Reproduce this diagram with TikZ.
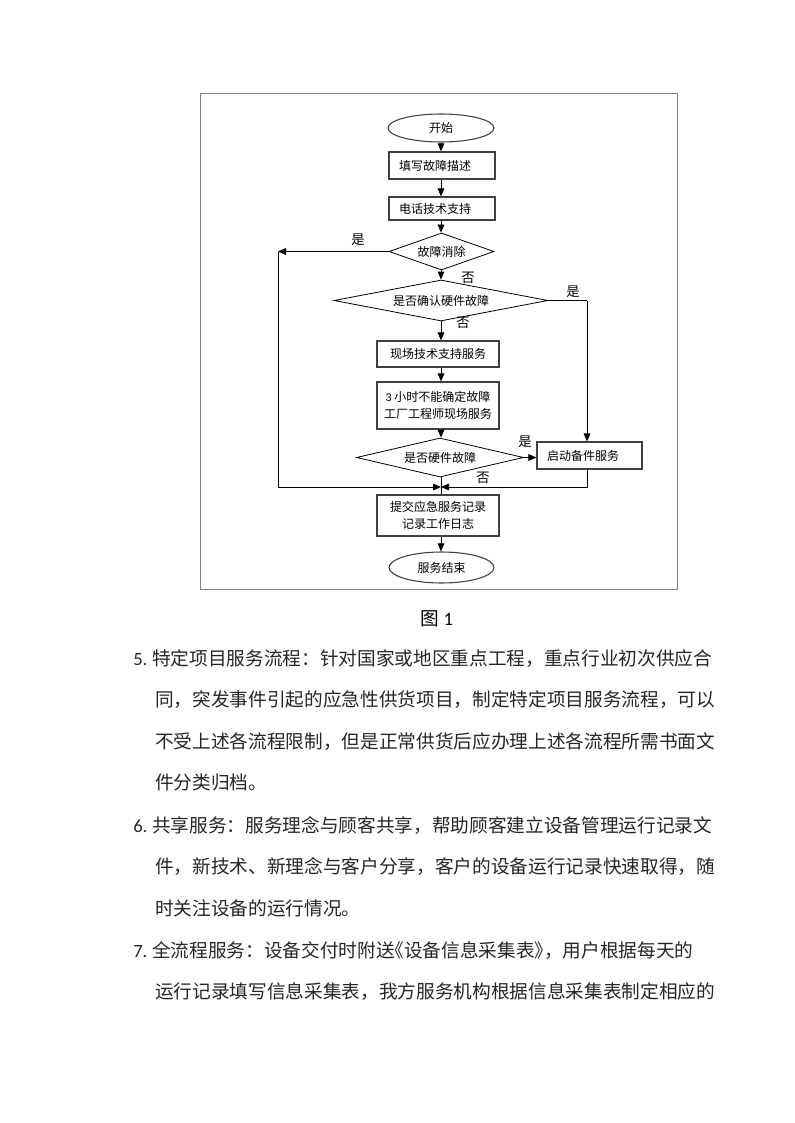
\documentclass[tikz,border=0pt]{standalone}
\usepackage{fontspec}
\setmainfont{Noto Sans CJK SC}
\newfontfamily\numfont{Carlito}
\usetikzlibrary{shapes.geometric,arrows.meta}
\newcommand\halfopen[1]{\makebox[0.5em][r]{#1}}
\newcommand\halfclose[1]{\makebox[0.5em][l]{#1}}
\tikzset{
  flow/.style={font=\fontsize{9pt}{13pt}\selectfont, inner sep=0pt},
  term/.style={flow, draw=black!75, line width=0.8pt, ellipse},
  box/.style={flow, draw=black!75, line width=0.9pt, rectangle, align=center},
  lbox/.style={box, align=left, inner xsep=7.5pt},
  test/.style={flow, draw=black, line width=0.6pt, diamond},
  answer/.style={font=\fontsize{10pt}{12pt}\selectfont, inner sep=0pt},
  para/.style={font=\fontsize{14pt}{16pt}\selectfont, text=black!85, inner sep=0pt, anchor=base west},
  link/.style={line width=0.6pt},
  >={Triangle[length=6pt,width=5pt]}
}
\begin{document}
\begin{tikzpicture}[x=0.75pt,y=-0.75pt]
      \useasboundingbox (0,0) rectangle (794,1123);
      \fill[white] (0,0) rectangle (794,1123);
      \draw[black!50, line width=1.1pt] (200.5,93.3) rectangle (677.7,589.7);
      \node[term, minimum width=79.5pt, minimum height=21pt] (start) at (441,128) {开始};
      \node[lbox, text width=64.5pt, minimum height=20.25pt] (fill) at (442,165.5) {填写故障描述};
      \node[lbox, text width=64.5pt, minimum height=17.25pt] (phone) at (442,208.5) {电话技术支持};
      \node[test, aspect=2.8, minimum width=78.75pt, minimum height=27.75pt] (clear) at (441.5,251.5) {故障消除};
      \node[test, aspect=5.2, minimum width=160.5pt, minimum height=30.75pt] (confirm) at (441,300.5) {是否确认硬件故障};
      \node[box, minimum width=91.5pt, minimum height=19.5pt] (site) at (438,354) {现场技术支持服务};
      \node[box, minimum width=91.5pt, minimum height=35.25pt] (factory) at (438,405.5) {{\numfont 3} 小时不能确定故障\\工厂工程师现场服务};
      \node[test, aspect=4.3, minimum width=125.25pt, minimum height=29.25pt] (hw) at (440,457.5) {是否硬件故障};
      \node[lbox, text width=63.75pt, minimum height=20.25pt] (spare) at (589.5,455.5) {启动备件服务};
      \node[box, minimum width=91.5pt, minimum height=30.75pt] (report) at (438,515.5) {提交应急服务记录\\记录工作日志};
      \node[term, minimum width=78.75pt, minimum height=23.25pt] (stop) at (441.5,567.5) {服务结束};
      \coordinate (yesL) at (278,251.5);
      \coordinate (yesLb) at (278,487);
      \coordinate (join) at (441,487);
      \coordinate (yesR) at (587,300.5);
      \coordinate (spareB) at (587,487);
      \begin{scope}[link]
        \draw[->] (start.south) -- (start.south |- fill.north);
        \draw[->] (start |- fill.south) -- (start |- phone.north);
        \draw[->] (start |- phone.south) -- (start |- clear.north);
        \draw[->] (start |- clear.south) -- (start |- confirm.north);
        \draw[->] (clear.west) -- (yesL);
        \draw[->] (yesL) -- (yesLb) -- (join);
        \draw (confirm.east) -- (yesR);
        \draw[->] (yesR) -- (yesR |- spare.north);
        \draw[->] (start |- confirm.south) -- (start |- site.north);
        \draw[->] (start |- site.south) -- (start |- factory.north);
        \draw[->] (start |- factory.south) -- (start |- hw.north);
        \draw[->] (hw.east) -- (hw.east -| spare.west);
        \draw (start |- hw.south) -- (start |- report.north);
        \draw[->] (yesR |- spare.south) -- (spareB) -- (join);
        \draw[->] (start |- report.south) -- (start |- stop.north);
      \end{scope}
      \node[answer] (yes1) at (358,240) {是};
      \node[answer] (no1) at (468,278) {否};
      \node[answer] (yes2) at (573,292) {是};
      \node[answer] (no2) at (463,323) {否};
      \node[answer] (yes3) at (525,442) {是};
      \node[answer] (no3) at (483,478) {否};
      \node[font=\fontsize{14pt}{16pt}\selectfont, inner sep=0pt, anchor=base] (cap) at (437,625) {图 {\numfont 1}};
      \node[para] (n5) at (133,665) {\numfont 5.};
      \node[para] (p5a) at (152,665) {特定项目服务流程：针对国家或地区重点工程，重点行业初次供应合};
      \node[para] (p5b) at (155,706.5) {同，突发事件引起的应急性供货项目，制定特定项目服务流程，可以};
      \node[para] (p5c) at (155,748) {不受上述各流程限制，但是正常供货后应办理上述各流程所需书面文};
      \node[para] (p5d) at (155,789.5) {件分类归档。};
      \node[para] (n6) at (133,832) {\numfont 6.};
      \node[para] (p6a) at (152,832) {共享服务：服务理念与顾客共享，帮助顾客建立设备管理运行记录文};
      \node[para] (p6b) at (155,873.5) {件，新技术、新理念与客户分享，客户的设备运行记录快速取得，随};
      \node[para] (p6c) at (155,915) {时关注设备的运行情况。};
      \node[para] (n7) at (133,957) {\numfont 7.};
      \node[para] (p7a) at (152,957) {全流程服务：设备交付时附送\halfopen{《}设备信息采集表\halfclose{》}，用户根据每天的};
      \node[para] (p7b) at (155,998.5) {运行记录填写信息采集表，我方服务机构根据信息采集表制定相应的};
    \end{tikzpicture}
\end{document}
